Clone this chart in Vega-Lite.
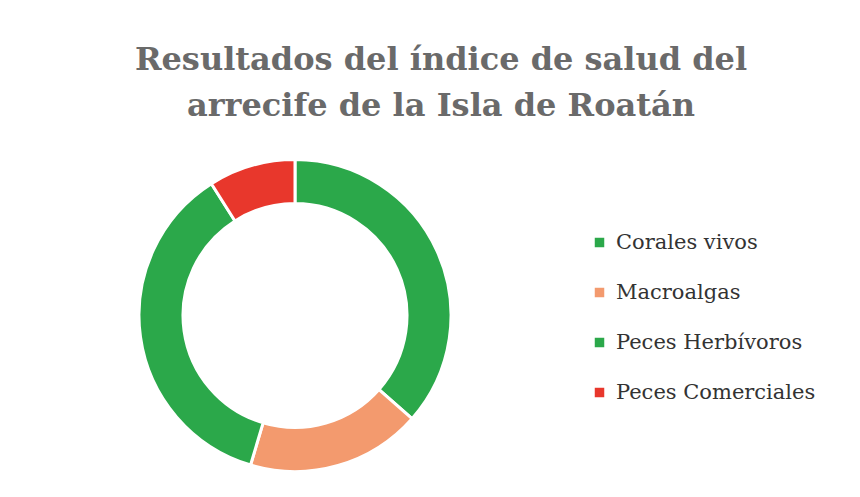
{
  "$schema": "https://vega.github.io/schema/vega-lite/v6.json",
  "width": 590,
  "height": 365,
  "autosize": "none",
  "padding": {"top": 133, "left": 0, "right": 270, "bottom": 0},
  "background": "#ffffff",
  "title": {
    "text": ["Resultados del índice de salud del", "arrecife de la Isla de Roatán"],
    "font": "DejaVu Serif",
    "fontSize": 32,
    "fontWeight": "bold",
    "color": "#6a6a6a",
    "anchor": "middle",
    "frame": "group",
    "dx": 146,
    "lineHeight": 46,
    "offset": 10
  },
  "data": {
    "values": [
      {"categoria": "Corales vivos", "valor": 36.5, "orden": 1},
      {"categoria": "Macroalgas", "valor": 18.1, "orden": 2},
      {"categoria": "Peces Herbívoros", "valor": 36.4, "orden": 3},
      {"categoria": "Peces Comerciales", "valor": 9.0, "orden": 4}
    ]
  },
  "mark": {"type": "arc", "outerRadius": 156, "innerRadius": 112, "stroke": "#ffffff", "strokeWidth": 3},
  "encoding": {
    "theta": {"field": "valor", "type": "quantitative", "stack": true},
    "order": {"field": "orden", "type": "quantitative"},
    "color": {
      "field": "categoria",
      "type": "nominal",
      "scale": {
        "domain": ["Corales vivos", "Macroalgas", "Peces Herbívoros", "Peces Comerciales"],
        "range": ["#2ba84a", "#f39a6e", "#2ba84a", "#e8372c"]
      },
      "legend": {
        "title": null,
        "orient": "none",
        "legendX": 589,
        "legendY": 99,
        "symbolType": "square",
        "symbolSize": 90,
        "symbolStrokeWidth": 0,
        "labelFont": "DejaVu Serif",
        "labelFontSize": 21,
        "labelColor": "#333333",
        "labelLimit": 300,
        "labelOffset": 6,
        "rowPadding": 28
      }
    }
  },
  "config": {"view": {"stroke": null}}
}
